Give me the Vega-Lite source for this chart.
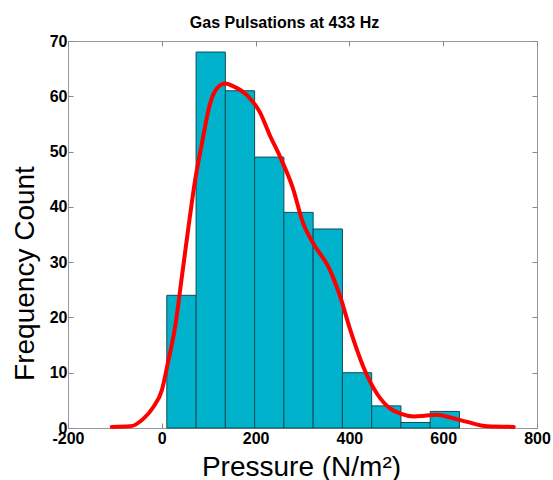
{
  "$schema": "https://vega.github.io/schema/vega-lite/v6.json",
  "autosize": "none",
  "width": 469,
  "height": 387,
  "padding": {"left": 68, "top": 41, "right": 16, "bottom": 52},
  "background": "white",
  "title": {"text": "Gas Pulsations at 433 Hz", "font": "Liberation Sans", "fontSize": 16, "fontWeight": "bold", "color": "#000", "anchor": "middle", "frame": "group", "dx": -18, "baseline": "alphabetic", "offset": -11},
  "config": {"view": {"stroke": "#999", "strokeWidth": 1}},
  "datasets": {
    "bins": [
      {"start": 10.7, "end": 73.1, "count": 24},
      {"start": 73.1, "end": 135.5, "count": 68},
      {"start": 135.5, "end": 197.9, "count": 61},
      {"start": 197.9, "end": 260.3, "count": 49},
      {"start": 260.3, "end": 322.7, "count": 39},
      {"start": 322.7, "end": 385.1, "count": 36},
      {"start": 385.1, "end": 447.5, "count": 10},
      {"start": 447.5, "end": 509.9, "count": 4},
      {"start": 509.9, "end": 572.3, "count": 1},
      {"start": 572.3, "end": 634.7, "count": 3}
    ],
    "curve": [
      {"p": -106.7, "f": 0.2}, {"p": -67.7, "f": 0.3}, {"p": -39, "f": 1.7}, {"p": -18, "f": 3.8},
      {"p": 0, "f": 6.8}, {"p": 14, "f": 12.2}, {"p": 28.4, "f": 18.3}, {"p": 42.7, "f": 27.3},
      {"p": 56.8, "f": 36.3}, {"p": 71, "f": 44.8}, {"p": 85.4, "f": 51.4}, {"p": 103, "f": 58.7},
      {"p": 117.4, "f": 61.4}, {"p": 135, "f": 62.3}, {"p": 152.8, "f": 61.8}, {"p": 181.4, "f": 60.2},
      {"p": 209.8, "f": 57}, {"p": 230, "f": 53}, {"p": 252.5, "f": 49}, {"p": 281, "f": 43},
      {"p": 299, "f": 37.6}, {"p": 323.6, "f": 33.3}, {"p": 355.6, "f": 29.1}, {"p": 380.6, "f": 23.7},
      {"p": 402, "f": 17.7}, {"p": 430, "f": 11}, {"p": 458.9, "f": 6.2}, {"p": 487.3, "f": 3.5},
      {"p": 508.6, "f": 2.6}, {"p": 537, "f": 2.1}, {"p": 560, "f": 2.2}, {"p": 587, "f": 2.4},
      {"p": 615.4, "f": 1.9}, {"p": 651, "f": 1.1}, {"p": 693.7, "f": 0.3}, {"p": 750.5, "f": 0.2}
    ]
  },
  "layer": [
    {
      "data": {"name": "bins"},
      "mark": {"type": "rect", "color": "#00b2cb", "stroke": "#0d4d58", "strokeWidth": 1},
      "encoding": {
        "x": {"field": "start", "type": "quantitative", "scale": {"domain": [-200, 800], "nice": false, "zero": false},
          "axis": {"values": [-200, 0, 200, 400, 600, 800], "labelExpr": "replace(datum.label, '−', '-')", "grid": false, "domain": false, "tickSize": -5, "tickColor": "#888",
            "labelFont": "Liberation Sans", "labelFontSize": 16, "labelFontWeight": "bold", "labelColor": "#000", "labelPadding": 7, "labelFlush": false,
            "title": "Pressure (N/m²)", "titleFont": "Liberation Sans", "titleFontSize": 28, "titleFontWeight": "normal", "titleColor": "#000",
            "titleBaseline": "alphabetic", "titleY": 47, "titleX": 233}},
        "x2": {"field": "end"},
        "y": {"field": "count", "type": "quantitative", "scale": {"domain": [0, 70], "nice": false},
          "axis": {"values": [0, 10, 20, 30, 40, 50, 60, 70], "grid": false, "domain": false, "tickSize": -5, "tickColor": "#888",
            "labelFont": "Liberation Sans", "labelFontSize": 16, "labelFontWeight": "bold", "labelColor": "#000", "labelPadding": 6, "labelFlush": false,
            "title": "Frequency Count", "titleFont": "Liberation Sans", "titleFontSize": 28, "titleFontWeight": "normal", "titleColor": "#000",
            "titleBaseline": "alphabetic", "titleAngle": -90, "titleAlign": "center", "titleX": -35, "titleY": 232}},
        "y2": {"datum": 0}
      }
    },
    {
      "data": {"name": "curve"},
      "mark": {"type": "line", "color": "#ff0000", "strokeWidth": 4, "interpolate": "monotone", "strokeCap": "round"},
      "encoding": {
        "x": {"field": "p", "type": "quantitative", "axis": {"orient": "top", "values": [-200, 0, 200, 400, 600, 800], "labels": false, "title": null, "grid": false, "domain": false, "tickSize": -5, "tickColor": "#888"}},
        "y": {"field": "f", "type": "quantitative", "axis": {"orient": "right", "values": [0, 10, 20, 30, 40, 50, 60, 70], "labels": false, "title": null, "grid": false, "domain": false, "tickSize": -5, "tickColor": "#888"}}
      }
    }
  ],
  "resolve": {"axis": {"x": "independent", "y": "independent"}}
}
